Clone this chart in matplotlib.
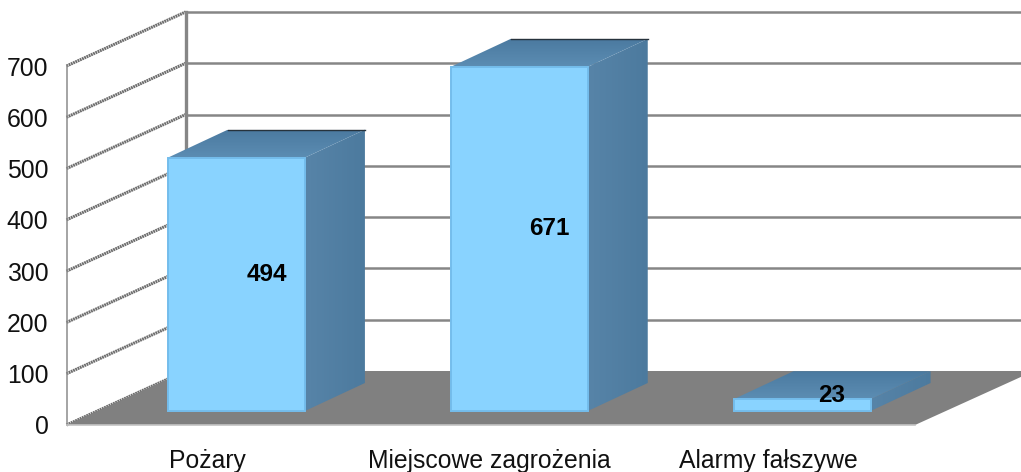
import matplotlib
matplotlib.use("Agg")
import matplotlib.pyplot as plt
import numpy as np
from matplotlib.patches import Polygon

plt.rcParams['font.family'] = ['Liberation Sans', 'DejaVu Sans']

# dane
categories = ["Pożary", "Miejscowe zagrożenia", "Alarmy fałszywe"]
values = [494, 671, 23]
y_ticks = [0, 100, 200, 300, 400, 500, 600, 700]

W, H = 1021, 472
fig = plt.figure(figsize=(W / 100, H / 100), dpi=100)
ax = fig.add_axes([66.5 / W, (H - 425) / H, 848.5 / W, 359 / H])
ax.set_xlim(0, 3)
ax.set_ylim(0, 700)

# px -> data
px_x = 3 / 848.5
px_y = 700 / 359

# glebokosc wykresu
dx = 119 * px_x
dy = 54 * px_y
# przesuniecie slupka od przodu i jego glebokosc
off_x = 31 * px_x
off_y = 14 * px_y
bar_dx = 60 * px_x
bar_dy = 28 * px_y
bar_w = 137 * px_x

GRAY = "#868686"

# podloga
ax.add_patch(Polygon([(0, 0), (3, 0), (3 + dx, dy), (dx, dy)], closed=True,
                     fc="#808080", ec="none", zorder=1.5, clip_on=False))
ax.plot([0, 3], [0, 0], color="#c4c4c4", lw=1.2, zorder=2, clip_on=False)

# siatka
for v in y_ticks:
    if v > 0:
        ax.plot([dx, 3 + dx], [v + dy, v + dy], color=GRAY, lw=1.8, zorder=1, clip_on=False)
    ax.plot([0, dx], [v, v + dy], color="#6e6e6e", lw=2.2, ls=(0, (0.6, 0.2)), zorder=1, clip_on=False)
ax.plot([dx, dx], [dy, 700 + dy], color=GRAY, lw=2.4, zorder=1, clip_on=False)
ax.plot([0, 0], [0, 700], color="#8c8c8c", lw=1.1, zorder=1, clip_on=False)


def gradient(poly, colors, horizontal, z):
    # wypelnienie gradientem przyciete do wielokata
    c = np.array([matplotlib.colors.to_rgb(k) for k in colors])
    t = np.linspace(0, 1, 64)
    img = np.stack([np.interp(t, np.linspace(0, 1, len(c)), c[:, i]) for i in range(3)], axis=-1)
    img = img[None, :, :] if horizontal else img[:, None, :]
    xs = [p[0] for p in poly]
    ys = [p[1] for p in poly]
    im = ax.imshow(img, extent=(min(xs), max(xs), min(ys), max(ys)), origin="lower",
                   aspect="auto", zorder=z, interpolation="bilinear")
    patch = Polygon(poly, closed=True, fc="none", ec="none", transform=ax.transData, clip_on=False)
    ax.add_patch(patch)
    im.set_clip_box(fig.bbox)
    im.set_clip_path(patch)


centers = [0.5, 1.5, 2.5]
for i, v in enumerate(values):
    z = 3 + i
    x0 = centers[i] - bar_w / 2 + off_x - 2.5 * px_x
    x1 = x0 + bar_w
    y0 = off_y
    y1 = off_y + v
    side = [(x1, y0), (x1 + bar_dx, y0 + bar_dy), (x1 + bar_dx, y1 + bar_dy), (x1, y1)]
    top = [(x0, y1), (x1, y1), (x1 + bar_dx, y1 + bar_dy), (x0 + bar_dx, y1 + bar_dy)]
    front = [(x0, y0), (x1, y0), (x1, y1), (x0, y1)]
    gradient(side, ["#5784a8", "#4c7a9e"], True, z)
    gradient(top, ["#5c8db3", "#4b7aa0"], False, z)
    ax.add_patch(Polygon(front, closed=True, fc="#89d3ff", ec="#74bdec", lw=1.4, zorder=z + 0.1, clip_on=False))
    if v > 100:
        ax.plot([x0 + bar_dx, x1 + bar_dx], [y1 + bar_dy, y1 + bar_dy], color="#26323c", lw=1.0,
                zorder=z + 0.2, clip_on=False)
    ax.text((x0 + x1 + bar_dx) / 2, (y0 + y1 + bar_dy) / 2 - 4 * px_y, str(v), ha="center", va="center",
            fontsize=17.5, fontweight="bold", color="black", zorder=10)

ax.set_xlim(0, 3)
ax.set_ylim(0, 700)

ax.set_yticks(y_ticks)
ax.set_xticks([0.5, 1.495, 2.48])
ax.set_xticklabels(categories)
ax.tick_params(axis="both", length=0, labelsize=17.8, colors="#111111")
ax.tick_params(axis="y", pad=13)
ax.tick_params(axis="x", pad=17)
for s in ax.spines.values():
    s.set_visible(False)
ax.patch.set_visible(False)

fig.savefig("out.png", dpi=100)
